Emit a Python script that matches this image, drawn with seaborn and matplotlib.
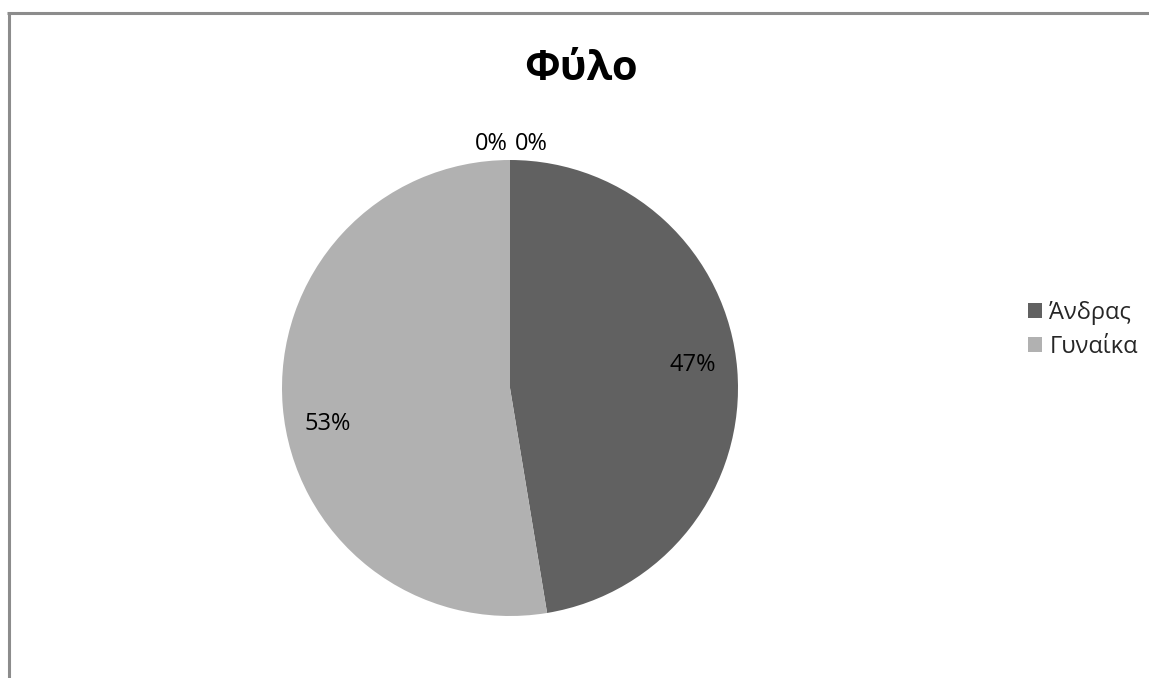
import matplotlib
matplotlib.use("Agg")
import matplotlib.pyplot as plt
import seaborn as sns
from matplotlib.patches import Patch
from matplotlib.lines import Line2D
import numpy as np

categories = ["Άνδρας", "Γυναίκα", "", ""]
values = [47.4, 52.6, 0.0, 0.0]
legend_labels = ["Άνδρας", "Γυναίκα"]
colors = ["#616161", "#b1b1b1", "#888888", "#cccccc"]
title = "Φύλο"

sns.set_theme(style="white")
plt.rcParams['font.family'] = ['Open Sans', 'DejaVu Sans']

W, H = 1149, 678
fig = plt.figure(figsize=(W / 100, H / 100), dpi=100)
fig.patch.set_facecolor("white")

# outer chart border (left and top visible)
fig.add_artist(Line2D([8.5 / W, 8.5 / W], [0, 1 - 12.5 / H], transform=fig.transFigure,
                      color="#8c8c8c", lw=2.2, solid_capstyle="butt"))
fig.add_artist(Line2D([7.4 / W, 1], [1 - 12.5 / H, 1 - 12.5 / H], transform=fig.transFigure,
                      color="#8c8c8c", lw=2.2, solid_capstyle="butt"))

cx, cy, r = 510, 388, 228
ax = fig.add_axes([(cx - r) / W, (H - cy - r) / H, 2 * r / W, 2 * r / H])
total = sum(values)
wedges, texts = ax.pie(values, colors=colors, startangle=90, counterclock=False,
                       radius=1.0, wedgeprops=dict(linewidth=0))
ax.set_xlim(-1, 1)
ax.set_ylim(-1, 1)
ax.set_aspect("equal")
ax.axis("off")

# percentage labels placed near wedge mid-angles
pct_dist = 0.81
for w, v in zip(wedges, values):
    if v <= 0:
        continue
    ang = np.deg2rad((w.theta1 + w.theta2) / 2 + 4.5)
    ax.text(pct_dist * np.cos(ang), pct_dist * np.sin(ang) - 0.028, f"{v / total * 100:.0f}%",
            ha="center", va="center", fontsize=17, color="black")

# zero-value labels at the top of the pie
zero_vals = [v for v in values if v <= 0]
offsets = [-0.08, 0.095]
for off, v in zip(offsets, zero_vals):
    ax.text(off, 1.07, f"{v:.0f}%", ha="center", va="center", fontsize=17, color="black")

fig.text(581 / W, 1 - 70 / H, title, ha="center", va="center", fontsize=30, fontweight="bold",
         color="black")

handles = [Patch(facecolor=c, edgecolor="none") for c in colors[:2]]
fig.legend(handles, legend_labels, loc="center left", bbox_to_anchor=(1028 / W, 1 - 330 / H),
           frameon=False, fontsize=17, handlelength=0.6, handleheight=0.6,
           handletextpad=0.3, labelspacing=0.45, borderaxespad=0, borderpad=0)

fig.savefig("out.png", dpi=100, facecolor="white")
